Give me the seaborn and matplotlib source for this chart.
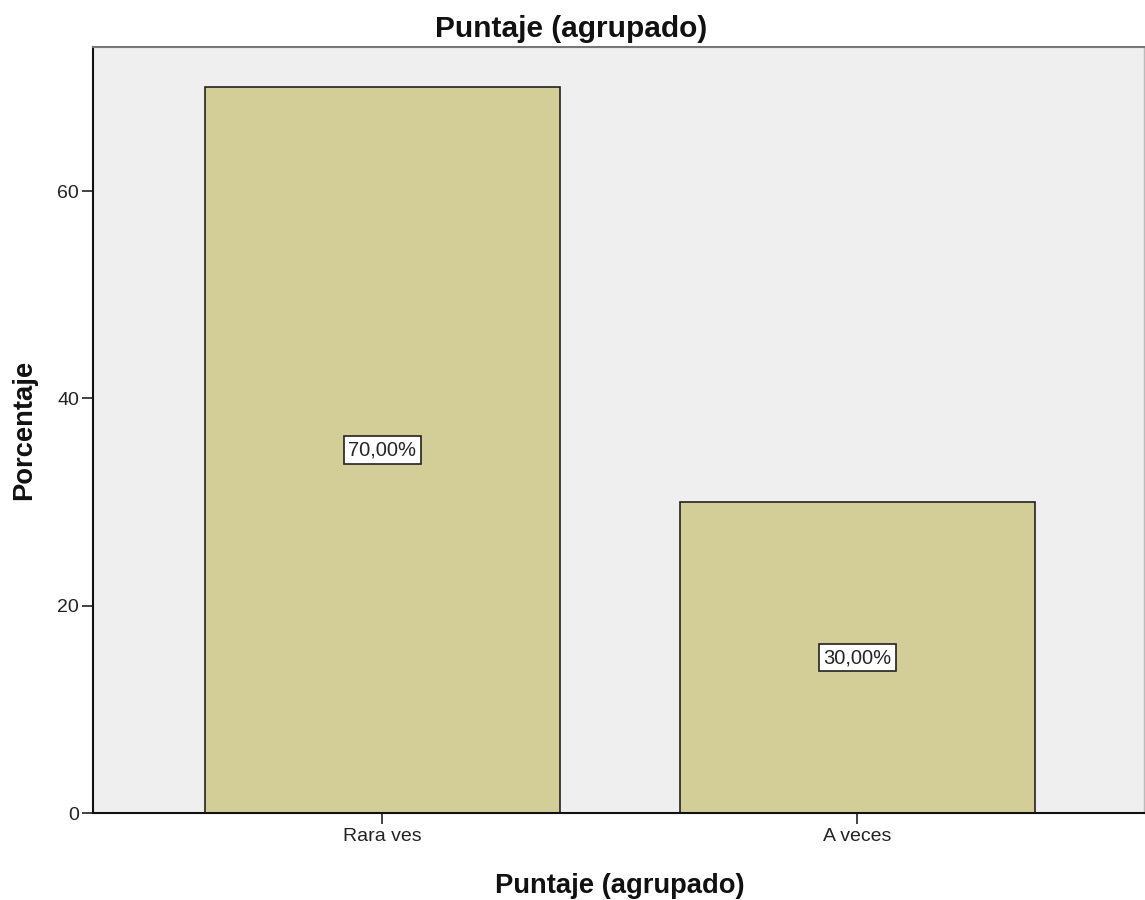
import matplotlib
matplotlib.use("Agg")
import matplotlib.pyplot as plt
import seaborn as sns
import pandas as pd

categories = ["Rara ves", "A veces"]
percentages = [70.0, 30.0]
value_labels = ["70,00%", "30,00%"]
y_ticks = [0, 20, 40, 60]

sns.set_style("white")
plt.rcParams['font.family'] = ['Liberation Sans', 'DejaVu Sans']

df = pd.DataFrame({"cat": categories, "pct": percentages})

W, H = 1145, 900
fig = plt.figure(figsize=(W / 100, H / 100), dpi=100)
ax = fig.add_axes([93 / W, (H - 813) / H, (1144 - 93) / W, (813 - 47) / H])
ax.set_facecolor("#EFEFEF")

sns.barplot(data=df, x="cat", y="pct", ax=ax, color="#D3CE98",
            width=0.747, edgecolor="#222222", linewidth=1.2, saturation=1)

for i, (v, lab) in enumerate(zip(percentages, value_labels)):
    ax.text(i, v / 2, lab, ha="center", va="center", fontsize=14.5,
            bbox=dict(boxstyle="square,pad=0.22", facecolor="white",
                      edgecolor="#222222", linewidth=1.2))

ax.set_xlim(-0.609, 1.603)
ax.set_ylim(0, 73.9)
ax.set_yticks(y_ticks)
ax.set_yticklabels([str(t) for t in y_ticks], fontsize=14)
ax.tick_params(axis="x", labelsize=14, length=8, width=1.2, direction="out",
               bottom=True, pad=3, colors="#222222")
ax.tick_params(axis="y", labelsize=14, length=8, width=1.2, direction="out",
               left=True, pad=2, colors="#222222")

for s in ["left", "bottom"]:
    ax.spines[s].set_color("#111111")
    ax.spines[s].set_linewidth(1.5)
ax.spines["top"].set_color("#777777")
ax.spines["top"].set_linewidth(1.5)
ax.spines["right"].set_color("#BBBBBB")
ax.spines["right"].set_linewidth(1.0)

ax.set_xlabel("")
ax.set_ylabel("")
fig.text(620 / W, 1 - 893 / H, "Puntaje (agrupado)", ha="center", va="baseline",
         fontsize=19.7, fontweight="bold", color="#111111")
fig.text(24 / W, 1 - 430 / H, "Porcentaje", ha="center", va="center",
         rotation=90, fontsize=19.7, fontweight="bold", color="#111111")
fig.text(571 / W, 1 - 37 / H, "Puntaje (agrupado)", ha="center", va="baseline",
         fontsize=21.5, fontweight="bold", color="#111111")

fig.savefig("out.png", dpi=100, facecolor="white")
